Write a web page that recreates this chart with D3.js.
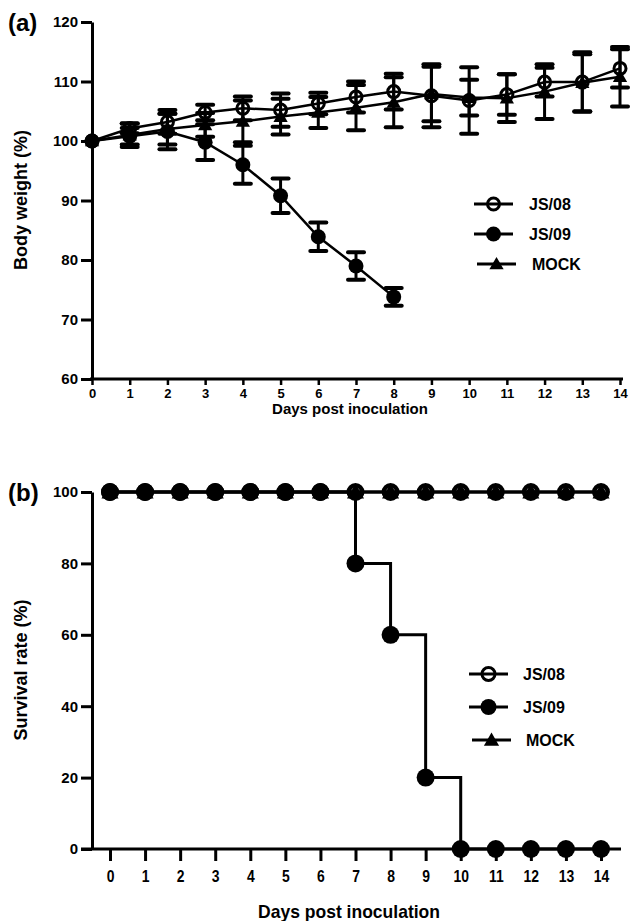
<!DOCTYPE html>
<html>
<head>
<meta charset="utf-8">
<script src="https://cdn.jsdelivr.net/npm/d3@7/dist/d3.min.js"></script>
<style>
  body { margin: 0; background: #fff; }
  svg { display: block; font-family: "Liberation Sans", Arial, sans-serif; font-weight: bold; }
</style>
</head>
<body>
<svg id="chart" width="631" height="921"></svg>
<script>
// ---- data ----
var days = [0, 1, 2, 3, 4, 5, 6, 7, 8, 9, 10, 11, 12, 13, 14];
var seriesNames = ["JS/08", "JS/09", "MOCK"];

// body weight (%), mean and error
var weightJS08 = [100, 102.1, 103.2, 104.8, 105.5, 105.2, 106.3, 107.4, 108.3, 107.6, 106.8, 107.8, 109.9, 109.9, 112.2];
var errJS08    = [0, 0.8, 2.0, 1.3, 2.0, 2.8, 1.8, 2.6, 3.0, 5.3, 5.6, 3.4, 2.4, 5.0, 3.2];
var weightJS09 = [100, 100.8, 101.6, 99.8, 96.0, 90.8, 83.9, 79.0, 73.8];
var errJS09    = [0, 1.4, 3.0, 3.0, 3.2, 2.9, 2.4, 2.3, 1.5];
var weightMOCK = [100, 101.0, 102.0, 102.7, 103.3, 104.1, 104.8, 105.6, 106.5, 107.9, 107.3, 107.2, 108.3, 109.8, 110.8];
var errMOCK    = [0, 2.0, 2.6, 2.0, 3.5, 3.0, 2.6, 3.8, 4.2, 4.6, 3.0, 4.0, 4.6, 4.8, 5.0];

// survival rate (%)
var survJS08 = [100, 100, 100, 100, 100, 100, 100, 100, 100, 100, 100, 100, 100, 100, 100];
var survJS09 = [100, 100, 100, 100, 100, 100, 100, 80, 60, 20, 0, 0, 0, 0, 0];
var survMOCK = [100, 100, 100, 100, 100, 100, 100, 100, 100, 100, 100, 100, 100, 100, 100];

var weightTicks = [60, 70, 80, 90, 100, 110, 120];
var survTicks = [0, 20, 40, 60, 80, 100];

var svg = d3.select("#chart");

function pts(vals, errs) {
  return vals.map(function (v, i) { return { d: days[i], v: v, e: errs ? errs[i] : 0 }; });
}

function drawMarker(g, type, x, y, r, sw) {
  if (type === "JS/08") {
    g.append("circle").attr("cx", x).attr("cy", y).attr("r", r - sw / 2)
      .attr("fill", "none").attr("stroke", "#000").attr("stroke-width", sw);
  } else if (type === "JS/09") {
    g.append("circle").attr("cx", x).attr("cy", y).attr("r", r).attr("fill", "#000");
  } else {
    var s = r * 0.95;
    g.append("path")
      .attr("d", "M" + x + "," + (y - s) + "L" + (x + s) + "," + (y + s * 0.75) + "L" + (x - s) + "," + (y + s * 0.75) + "Z")
      .attr("fill", "#000");
  }
}

function drawLegend(g, x0, y0, gap, textX, r) {
  seriesNames.forEach(function (name, i) {
    var y = y0 + i * gap;
    var dx = i === 2 ? 3 : 0;
    g.append("line").attr("x1", x0 + dx).attr("x2", x0 + dx + 39).attr("y1", y).attr("y2", y)
      .attr("stroke", "#000").attr("stroke-width", 3);
    drawMarker(g, name, x0 + dx + 19.5, y, r, 3);
    g.append("text").attr("x", textX + dx).attr("y", y).attr("dy", "0.36em")
      .attr("font-size", 16).text(name);
  });
}

function styleTicks(a, size) {
  a.select(".domain").attr("stroke-width", 3);
  a.selectAll(".tick line").attr("stroke-width", 3);
  a.selectAll("text").attr("font-size", size)
    .attr("font-family", "Liberation Sans, Arial, sans-serif").attr("font-weight", "bold");
}

// ===== panel (a) =====
var xA = d3.scaleLinear().domain([0, 14]).range([92, 620]);
var yA = d3.scaleLinear().domain([60, 120]).range([379, 22]);
var gA = svg.append("g");

gA.append("g").attr("transform", "translate(92,0)")
  .call(d3.axisLeft(yA).tickValues(weightTicks).tickSize(11).tickSizeOuter(0).tickPadding(3))
  .call(function (a) { styleTicks(a, 15); });

gA.append("g").attr("transform", "translate(0,379)")
  .call(d3.axisBottom(xA).tickValues(days).tickSize(6).tickSizeOuter(0).tickPadding(4))
  .call(function (a) {
    styleTicks(a, 13);
    a.select(".domain").attr("d", "M90,0H623");
    a.selectAll(".tick line").attr("stroke-width", 2.5);
  });

gA.append("text").attr("x", 350).attr("y", 414).attr("text-anchor", "middle")
  .attr("font-size", 15).text("Days post inoculation");
gA.append("text").attr("transform", "translate(27,200) rotate(-90)").attr("text-anchor", "middle")
  .attr("font-size", 18).text("Body weight (%)");
gA.append("text").attr("x", 8).attr("y", 31).attr("font-size", 24).text("(a)");

var lineA = d3.line().x(function (p) { return xA(p.d); }).y(function (p) { return yA(p.v); });
var weightSets = [
  { name: "JS/08", data: pts(weightJS08, errJS08) },
  { name: "JS/09", data: pts(weightJS09, errJS09) },
  { name: "MOCK", data: pts(weightMOCK, errMOCK) }
];

weightSets.forEach(function (s) {
  gA.append("path").datum(s.data).attr("d", lineA)
    .attr("fill", "none").attr("stroke", "#000").attr("stroke-width", 2.5);
});
weightSets.forEach(function (s) {
  s.data.forEach(function (p) {
    if (!p.e) { return; }
    var x = xA(p.d);
    gA.append("line").attr("x1", x).attr("x2", x).attr("y1", yA(p.v + p.e)).attr("y2", yA(p.v - p.e))
      .attr("stroke", "#000").attr("stroke-width", 3);
    [p.v + p.e, p.v - p.e].forEach(function (v) {
      gA.append("line").attr("x1", x - 8).attr("x2", x + 8).attr("y1", yA(v)).attr("y2", yA(v))
        .attr("stroke", "#000").attr("stroke-width", 4).attr("stroke-linecap", "round");
    });
  });
});
weightSets.forEach(function (s) {
  s.data.forEach(function (p) {
    drawMarker(gA, s.name, xA(p.d), yA(p.v), 7.5, 3);
  });
});

drawLegend(gA, 474, 204, 30, 529, 7.5);

// ===== panel (b) =====
var xB = d3.scaleLinear().domain([0, 14]).range([110, 601]);
var yB = d3.scaleLinear().domain([0, 100]).range([849, 492]);
var gB = svg.append("g");

gB.append("g").attr("transform", "translate(92,0)")
  .call(d3.axisLeft(yB).tickValues(survTicks).tickSize(11).tickSizeOuter(0).tickPadding(3))
  .call(function (a) { styleTicks(a, 15); });

gB.append("g").attr("transform", "translate(0,849)")
  .call(d3.axisBottom(xB).tickValues(days).tickSize(12).tickSizeOuter(0).tickPadding(9))
  .call(function (a) {
    styleTicks(a, 17);
    a.select(".domain").attr("d", "M81,0H621");
    a.selectAll("text").attr("transform", "scale(0.82,1)");
  });

gB.append("text").attr("x", 349).attr("y", 918).attr("text-anchor", "middle")
  .attr("font-size", 19).attr("textLength", 182).attr("lengthAdjust", "spacingAndGlyphs")
  .text("Days post inoculation");
gB.append("text").attr("transform", "translate(27,670) rotate(-90)").attr("text-anchor", "middle")
  .attr("font-size", 18).text("Survival rate (%)");
gB.append("text").attr("x", 8).attr("y", 501).attr("font-size", 24).text("(b)");

var lineB = d3.line().curve(d3.curveStepAfter)
  .x(function (p) { return xB(p.d); }).y(function (p) { return yB(p.v); });
var survSets = [
  { name: "JS/09", data: pts(survJS09) },
  { name: "JS/08", data: pts(survJS08) },
  { name: "MOCK", data: pts(survMOCK) }
];
survSets.forEach(function (s) {
  gB.append("path").datum(s.data).attr("d", lineB)
    .attr("fill", "none").attr("stroke", "#000").attr("stroke-width", 3);
});
survSets.forEach(function (s) {
  s.data.forEach(function (p) {
    drawMarker(gB, s.name, xB(p.d), yB(p.v), 9, 4.5);
  });
});

drawLegend(gB, 469, 674, 33, 523, 8);
</script>
</body>
</html>
